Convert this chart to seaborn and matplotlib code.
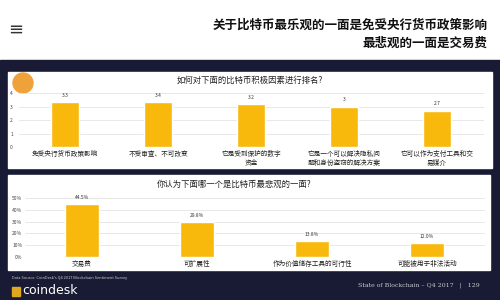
import matplotlib
matplotlib.use("Agg")
import matplotlib.pyplot as plt
import seaborn as sns
import pandas as pd
from matplotlib.patches import Rectangle, Ellipse

sns.set_theme(style="white")
plt.rcParams['font.family'] = ['Noto Sans CJK SC', 'DejaVu Sans']

# ---- data ----
headline = ["关于比特币最乐观的一面是免受央行货币政策影响", "最悲观的一面是交易费"]
top_title = "如何对下面的比特币积极因素进行排名?"
top_cats = ["免受央行货币政策影响", "不受审查、不可改变", "它是受到保护的数字\n资金",
            "它是一个可以解决隐私问\n题和身份盗窃的解决方案", "它可以作为支付工具和交\n易媒介"]
top_vals = [3.3, 3.3, 3.2, 3.0, 2.7]
top_labels = ["3.3", "3.4", "3.2", "3", "2.7"]
top_ticks = [0, 1, 2, 3, 4]

bot_title = "你认为下面哪一个是比特币最悲观的一面?"
bot_cats = ["交易费", "可扩展性", "作为价值储存工具的可行性", "可能被用于非法活动"]
bot_vals = [44.5, 29.8, 13.8, 12.0]
bot_ticks = [0, 10, 20, 30, 40, 50]

source = "Data Source: CoinDesk's Q4 2017 Blockchain Sentiment Survey"
footer = "State of Blockchain – Q4 2017   |   129"

W, H = 500, 300
NAVY = "#181b33"
ORANGE = "#f8b80c"

fig = plt.figure(figsize=(5, 3), dpi=100)
fig.patch.set_facecolor("white")

def fx(x): return x / W
def fy(y): return 1 - y / H

# navy band
fig.patches.append(Rectangle((0, 0), 1, fy(60), transform=fig.transFigure, color=NAVY, zorder=-3))
# white panels
fig.patches.append(Rectangle((fx(8), fy(168)), fx(484), (168 - 72) / H, transform=fig.transFigure,
                             color="white", zorder=-2))
fig.patches.append(Rectangle((fx(8), fy(270)), fx(482), (270 - 175) / H, transform=fig.transFigure,
                             color="white", zorder=-2))

# headline
fig.text(fx(488), fy(25), headline[0], ha="right", va="center", fontsize=9, fontweight="bold", color="#111111")
fig.text(fx(488), fy(43), headline[1], ha="right", va="center", fontsize=9, fontweight="bold", color="#111111")
fig.text(fx(16), fy(30), "≡", ha="center", va="center", fontsize=13, color="#333333", family="DejaVu Sans")

# avatar icon
fig.patches.append(Ellipse((fx(23), fy(83)), fx(20), 20 / H, transform=fig.transFigure,
                           color="#f0a23a", zorder=2))

def style_axes(ax):
    ax.set_zorder(5)
    ax.patch.set_alpha(0)
    ax.yaxis.grid(True, color="#e4e4e4", linewidth=0.6)
    ax.set_axisbelow(True)
    for s in ax.spines.values():
        s.set_visible(False)
    ax.set_xlabel("")
    ax.set_ylabel("")

# ---- top chart ----
ax1 = fig.add_axes([fx(18.5), fy(147), fx(465), (147 - 93) / H])
df1 = pd.DataFrame({"cat": top_cats, "val": top_vals})
sns.barplot(data=df1, x="cat", y="val", ax=ax1, color=ORANGE, width=0.31, saturation=1)
ax1.set_ylim(0, 4)
ax1.set_yticks(top_ticks)
ax1.set_xlim(-0.5, len(top_cats) - 0.5)
style_axes(ax1)
ax1.tick_params(axis="y", labelsize=3.5, length=0, pad=4, labelcolor="#444444")
ax1.tick_params(axis="x", labelsize=4.8, length=0, pad=2, labelcolor="#222222")
for lbl in ax1.get_xticklabels():
    lbl.set_linespacing(1.25)
for c in ax1.containers:
    ax1.bar_label(c, labels=top_labels, fontsize=3.5, padding=3, color="#333333")
fig.text(fx(250), fy(80), top_title, ha="center", va="center", fontsize=6, color="#222222")

# ---- bottom chart ----
ax2 = fig.add_axes([fx(24.5), fy(257), fx(460), (257 - 198) / H])
df2 = pd.DataFrame({"cat": bot_cats, "val": bot_vals})
sns.barplot(data=df2, x="cat", y="val", ax=ax2, color=ORANGE, width=0.30, saturation=1)
ax2.set_ylim(0, 50)
ax2.set_yticks(bot_ticks)
ax2.set_yticklabels([f"{t}%" for t in bot_ticks])
ax2.set_xlim(-0.5, len(bot_cats) - 0.5)
style_axes(ax2)
ax2.tick_params(axis="y", labelsize=3.6, length=0, pad=1.5, labelcolor="#444444")
ax2.tick_params(axis="x", labelsize=4.8, length=0, pad=2, labelcolor="#222222")
for c in ax2.containers:
    ax2.bar_label(c, labels=[f"{v:.1f}%" for v in bot_vals], fontsize=3.5, padding=3,
                  color="#333333")
fig.text(fx(157), fy(184), bot_title, ha="left", va="center", fontsize=6, color="#222222")

# ---- footer ----
fig.text(fx(12), fy(278), source, ha="left", va="center", fontsize=2.8, color="#d0d0d8")
fig.patches.append(Rectangle((fx(12), fy(296)), fx(8), 9 / H, transform=fig.transFigure,
                             color="#e0a820", zorder=2))
fig.text(fx(22), fy(291), "coindesk", ha="left", va="center", fontsize=9, color="white",
         family="DejaVu Sans")
fig.text(fx(480), fy(285), footer, ha="right", va="center", fontsize=4.5, color="#c8c8d0",
         family="DejaVu Serif")

fig.savefig("out.png", dpi=100, facecolor=fig.get_facecolor())
